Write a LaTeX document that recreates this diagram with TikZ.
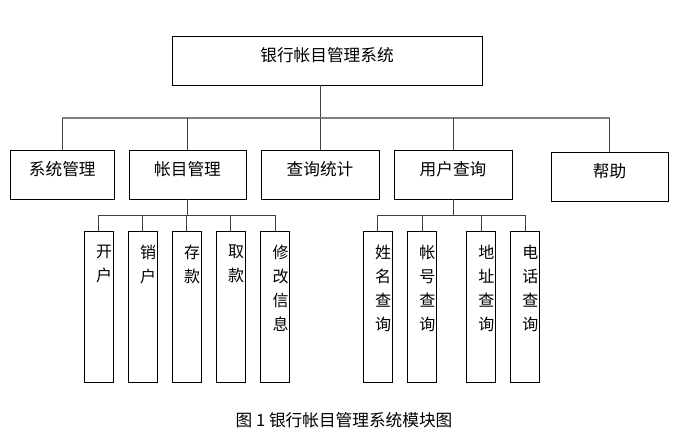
\documentclass[tikz,border=0pt]{standalone}
\usepackage{fontspec}
\setmainfont{Noto Sans CJK SC}
\tikzset{
  modbox/.style={draw, line width=0.7pt, inner sep=0pt, minimum height=36.75pt, text height=6pt, text depth=4.5pt,
                 font=\fontsize{12.5pt}{14pt}\selectfont},
  leafbox/.style={draw, line width=0.7pt, inner sep=0pt, minimum width=21.75pt, minimum height=113.5pt},
  leaftext/.style={inner sep=0pt, anchor=north, align=center, font=\fontsize{12pt}{18pt}\selectfont},
  link/.style={line width=0.7pt, black!75},
  mainbus/.style={line width=1.2pt, black!50}
}
\begin{document}
\begin{tikzpicture}[x=0.75pt, y=-0.75pt]
    \useasboundingbox (0,0) rectangle (690,440);
    \node[modbox, minimum width=232.5pt] (root) at (327,60.5) {银行帐目管理系统};

    \node[modbox, minimum width=77.5pt]  (sys)  at (62.3,174.5) {系统管理};
    \node[modbox, minimum width=87.75pt] (acct) at (187.5,174.5) {帐目管理};
    \node[modbox, minimum width=88.5pt]  (stat) at (320,174.5) {查询统计};
    \node[modbox, minimum width=88.5pt]  (user) at (453,174.5) {用户查询};
    \node[modbox, minimum width=87.75pt] (help) at (609.5,176.5) {帮助};

    % first level
    \coordinate (bus) at (320,118);
    \draw[link] (root.south -| bus) -- (bus);
    \draw[mainbus] (bus -| sys) -- (bus -| help);
    \foreach \m in {sys, acct, stat, user, help} {
        \draw[link] (bus -| \m) -- (\m.north);
    }

    % leaves
    \foreach \n/\x/\t in {a1/98.8/开\\户, a2/142.8/销\\户, a3/186.8/存\\款, a4/230.8/取\\款, a5/275.3/修\\改\\信\\息,
                          u1/377.8/姓\\名\\查\\询, u2/422/帐\\号\\查\\询, u3/481/地\\址\\查\\询, u4/525/电\\话\\查\\询} {
        \node[leafbox] (\n) at (\x,307) {};
        \node[leaftext] (\n-t) at ([xshift=4pt, yshift=-10.5pt]\n.north) {\t};
    }

    \coordinate (abus) at (187.5,215.3);
    \coordinate (ubus) at (453,215.3);
    \draw[link] (acct.south) -- (abus);
    \draw[link] (user.south) -- (ubus);
    \draw[link] (abus -| a1) -- (abus -| a5);
    \draw[link] (ubus -| u1) -- (ubus -| u4);
    \foreach \n in {a1, a2, a3, a4, a5} {
        \draw[link] (abus -| \n) -- (\n.north);
    }
    \foreach \n in {u1, u2, u3, u4} {
        \draw[link] (ubus -| \n) -- (\n.north);
    }

    \node[font=\fontsize{12.5pt}{14pt}\selectfont] (cap) at (344,420) {图 1 银行帐目管理系统模块图};
\end{tikzpicture}
\end{document}
